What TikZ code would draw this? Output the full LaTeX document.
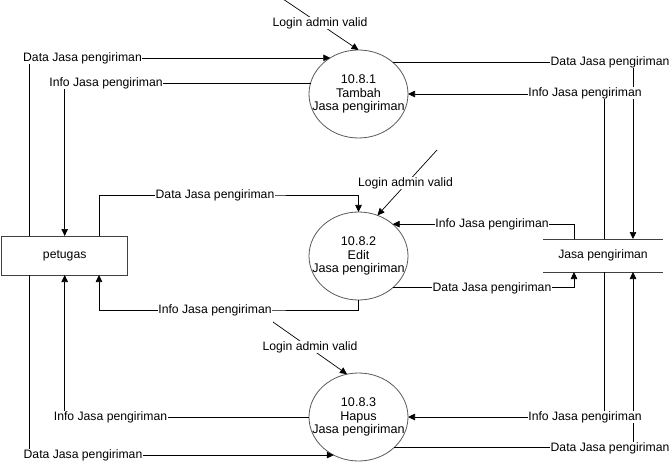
\documentclass[tikz,border=0pt]{standalone}
\usepackage{fontspec}
\setmainfont{Liberation Sans}
\usetikzlibrary{shapes.geometric,arrows.meta}
\begin{document}
\begin{tikzpicture}[x=1pt,y=-1pt,
  lbl/.style={fill=white, inner sep=0.6pt, font=\fontsize{12.2}{14}\selectfont},
  proc/.style={ellipse, draw=black!65, line width=0.8pt, minimum width=99pt, minimum height=88pt, inner sep=0pt, outer sep=0pt},
  ptext/.style={align=center, font=\fontsize{12.6}{13.5}\selectfont, inner sep=0pt},
  flow/.style={line width=0.7pt, -{Triangle[length=7pt,width=6.5pt]}},
  plain/.style={line width=0.7pt}]
\fill[white] (0,0) rectangle (671,462);
\useasboundingbox (0,0) rectangle (671,462);

% entities and store
\node[draw=black!75, line width=0.9pt, minimum width=126pt, minimum height=39pt, inner sep=0pt, outer sep=0pt, font=\fontsize{12.2}{14}\selectfont] (pet) at (64.7,255.5) {petugas};
\node[minimum width=120pt, minimum height=33pt, inner sep=0pt, outer sep=0pt, font=\fontsize{12.2}{14}\selectfont] (store) at (603,255.5) {Jasa pengiriman};
\draw[plain, black!75] (store.north west) -- (store.north east) (store.south west) -- (store.south east);

% processes
\node[proc] (c1) at (358.5,94) {};
\node[ptext] (c1t) at (c1) {10.8.1\\Tambah\\Jasa pengiriman};
\node[proc] (c2) at (358.5,256) {};
\node[ptext] (c2t) at (c2) {10.8.2\\Edit\\Jasa pengiriman};
\node[proc] (c3) at (358.5,417) {};
\node[ptext] (c3t) at (c3) {10.8.3\\Hapus\\Jasa pengiriman};

% connection points
\coordinate (pt1) at ([xshift=27.3pt]pet.north west);
\coordinate (pt3) at ([xshift=97.3pt]pet.north west);
\coordinate (pb1) at ([xshift=27.3pt]pet.south west);
\coordinate (pb3) at ([xshift=97.3pt]pet.south west);
\coordinate (st1) at ([xshift=31pt]store.north west);
\coordinate (st2) at ([xshift=61pt]store.north west);
\coordinate (st3) at ([xshift=90pt]store.north west);
\coordinate (sb1) at ([xshift=31pt]store.south west);
\coordinate (sb2) at ([xshift=61pt]store.south west);
\coordinate (sb3) at ([xshift=90pt]store.south west);
\coordinate (s1) at (283,-1);
\coordinate (s2) at (437,150);
\coordinate (s3) at (273,322);
\coordinate (pd2) at (215,195);
\coordinate (pi2) at (215,310);

% flows
\draw[flow] (pt1) |- (c1.128);
\draw[flow] (c1.167) -| (pet.north);
\draw[flow] (c1.43) -| (st3);
\draw[flow] (st2) |- (c1.east);
\draw[flow] (s1) -- (c1.north);

\draw[flow] (pt3) |- (pd2) -| (c2.north);
\draw[flow] (c2.south) |- (pi2) -| (pb3);
\draw[flow] (st1) |- (c2.43);
\draw[flow] (c2.-43) -| (sb1);
\draw[flow] (s2) -- (c2.65);

\draw[flow] (c3.west) -| (pet.south);
\draw[flow] (pb1) |- (c3.237);
\draw[flow] (sb2) |- (c3.east);
\draw[flow] (c3.-41) -| (sb3);
\draw[flow] (s3) -- (c3.105);

% labels
\node[lbl] (l1) at (82.5,58) {Data Jasa pengiriman};
\node[lbl] (l2) at (106,83) {Info Jasa pengiriman};
\node[lbl] (l3) at (610,62) {Data Jasa pengiriman};
\node[lbl] (l4) at (585,93) {Info Jasa pengiriman};
\node[lbl] (l5) at (320,23) {Login admin valid};
\node[lbl] (l6) at (pd2) {Data Jasa pengiriman};
\node[lbl] (l7) at (pi2) {Info Jasa pengiriman};
\node[lbl] (l8) at (492,224) {Info Jasa pengiriman};
\node[lbl] (l9) at (492,288) {Data Jasa pengiriman};
\node[lbl] (l10) at (405.5,183) {Login admin valid};
\node[lbl] (l11) at (110.5,417) {Info Jasa pengiriman};
\node[lbl] (l12) at (83,455) {Data Jasa pengiriman};
\node[lbl] (l13) at (585,417) {Info Jasa pengiriman};
\node[lbl] (l14) at (610,448) {Data Jasa pengiriman};
\node[lbl] (l15) at (310,347) {Login admin valid};
\end{tikzpicture}
\end{document}
